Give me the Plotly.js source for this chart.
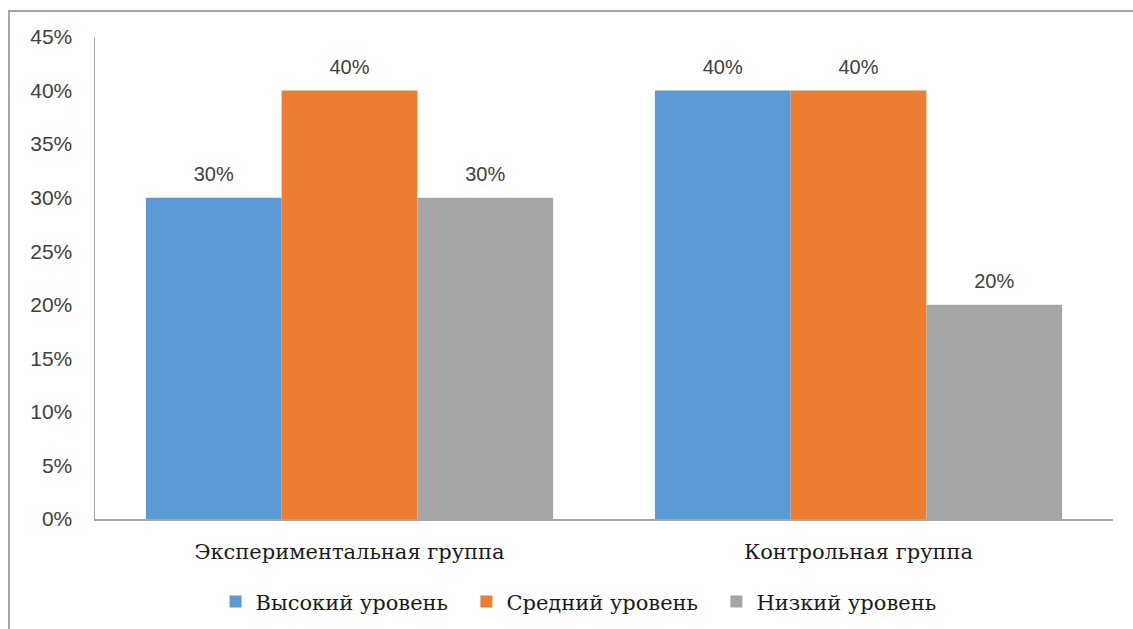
<!DOCTYPE html>
<html>
<head>
<meta charset="utf-8">
<script src="https://cdn.plot.ly/plotly-3.0.1.min.js"></script>
<style>
  html, body { margin: 0; padding: 0; background: #fff; }
  #wrap { position: relative; width: 1133px; height: 629px; overflow: hidden; }
  #frame { position: absolute; left: 8px; top: 10px; width: 1200px; height: 700px;
           border-top: 2px solid #a6a6a6; border-left: 2px solid #a6a6a6; box-sizing: border-box; pointer-events: none; }
  #chart { position: absolute; left: 0; top: 0; width: 1133px; height: 629px; }
</style>
</head>
<body>
<div id="wrap">
  <div id="chart"></div>
  <div id="frame"></div>
</div>
<script>
const categories = ["Экспериментальная группа", "Контрольная группа"];
const seriesNames = ["Высокий уровень", "Средний уровень", "Низкий уровень"];
const highLevel = [0.30, 0.40];
const midLevel = [0.40, 0.40];
const lowLevel = [0.30, 0.20];
const seriesColors = ["#5b9bd5", "#ed7d31", "#a5a5a5"];
const yTickVals = [0, 0.05, 0.10, 0.15, 0.20, 0.25, 0.30, 0.35, 0.40, 0.45];

const SERIF = "'DejaVu Serif', 'Liberation Serif', serif";
const SANS = "'Liberation Sans', Arial, sans-serif";
const values = [highLevel, midLevel, lowLevel];

const barTraces = values.map((v, i) => ({
  type: "bar",
  name: seriesNames[i] + (i < values.length - 1 ? "\u00a0\u00a0" : ""),
  x: categories,
  y: v,
  offsetgroup: String(i),
  marker: { color: seriesColors[i], line: { width: 0 } },
  hoverinfo: "skip"
}));

const labelTraces = values.map((v, i) => ({
  type: "scatter",
  mode: "markers+text",
  x: categories,
  y: v,
  offsetgroup: String(i),
  showlegend: false,
  marker: { size: 17, opacity: 0, color: seriesColors[i] },
  text: v.map(d => Math.round(d * 100) + "%"),
  textposition: "top center",
  textfont: { family: SANS, size: 20, color: "#404040" },
  cliponaxis: false,
  hoverinfo: "skip"
}));

const layout = {
  width: 1133,
  height: 629,
  margin: { l: 95, r: 20, t: 37, b: 110 },
  paper_bgcolor: "#ffffff",
  plot_bgcolor: "#ffffff",
  barmode: "group",
  scattermode: "group",
  bargap: 0.2,
  scattergap: 0.2,
  bargroupgap: 0,
  font: { family: SERIF, size: 21, color: "#1a1a1a" },
  xaxis: {
    automargin: false,
    showline: true,
    linecolor: "#a6a6a6",
    linewidth: 1.5,
    ticks: "",
    showgrid: false,
    zeroline: false,
    ticklabelstandoff: 13,
    tickfont: { family: SERIF, size: 21, color: "#1a1a1a" }
  },
  yaxis: {
    automargin: false,
    range: [0, 0.45],
    tickvals: yTickVals,
    tickformat: ".0%",
    showline: true,
    linecolor: "#a6a6a6",
    linewidth: 1.5,
    ticks: "",
    showgrid: false,
    zeroline: false,
    ticklabelstandoff: 17,
    tickfont: { family: SANS, size: 21, color: "#404040" }
  },
  showlegend: true,
  legend: {
    orientation: "h",
    xref: "paper",
    x: 0.475,
    xanchor: "center",
    yref: "container",
    y: 0.043,
    yanchor: "middle",
    font: { family: SERIF, size: 21, color: "#1a1a1a" },
    itemwidth: 30,
    traceorder: "normal"
  }
};

Plotly.newPlot("chart", barTraces.concat(labelTraces), layout, { displayModeBar: false, staticPlot: true });
</script>
</body>
</html>
